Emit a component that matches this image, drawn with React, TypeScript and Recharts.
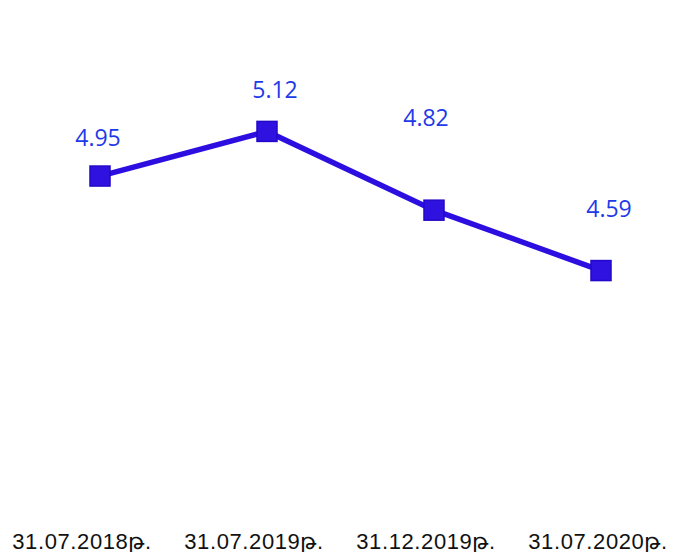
import React from 'react';
import { LineChart, Line, XAxis, YAxis, LabelList } from 'recharts';

// Dates on the axis and the rate at each date
const dates = ['31.07.2018թ.', '31.07.2019թ.', '31.12.2019թ.', '31.07.2020թ.'];
const rates = [4.95, 5.12, 4.82, 4.59];

// little nudges so the value labels sit where the original has them
const labelDx = [-2, 8, -8, 8];
const labelDy = [-30, -33, -84, -54];

const data = dates.map((d, i) => ({ date: d, rate: rates[i] }));

const SquareDot = (props: any) => {
  const { cx, cy, index } = props;
  if (cx == null || cy == null) return null;
  return (
    <rect
      key={`dot-${index}`}
      x={cx - 10}
      y={cy - 10}
      width={20}
      height={20}
      fill="#2f12e0"
      stroke="#2209c9"
      strokeWidth={1.5}
    />
  );
};

const ValueLabel = (props: any) => {
  const { x, y, value, index } = props;
  return (
    <text
      x={x + (labelDx[index] || 0)}
      y={y + (labelDy[index] || 0)}
      textAnchor="middle"
      fill="#1d3ae8"
      fontFamily="'Open Sans', 'Noto Sans', sans-serif"
      fontSize={23}
    >
      {value.toFixed(2)}
    </text>
  );
};

export default function App() {
  return (
    <div style={{ margin: -8, width: 674, height: 560, background: '#fff' }}>
      <LineChart
        width={674}
        height={560}
        data={data}
        margin={{ top: 8, right: 73, bottom: 0, left: 82 }}
      >
        <XAxis xAxisId="line" dataKey="date" hide padding={{ left: 18, right: 0 }} />
        <XAxis
          xAxisId="lab"
          dataKey="date"
          height={40}
          axisLine={false}
          tickLine={false}
          tickMargin={7}
          padding={{ left: 0, right: 3 }}
          interval={0}
          tick={{
            fill: '#111',
            fontSize: 22,
            fontFamily: 'Liberation Sans, Arial, sans-serif',
            letterSpacing: 0.6,
          }}
        />
        <YAxis hide domain={[3.64, 5.59]} allowDataOverflow />
        <Line
          xAxisId="line"
          type="linear"
          dataKey="rate"
          stroke="#2c0fe0"
          strokeWidth={5.5}
          dot={SquareDot}
          activeDot={false}
          isAnimationActive={false}
        >
          <LabelList dataKey="rate" content={ValueLabel} />
        </Line>
      </LineChart>
    </div>
  );
}
